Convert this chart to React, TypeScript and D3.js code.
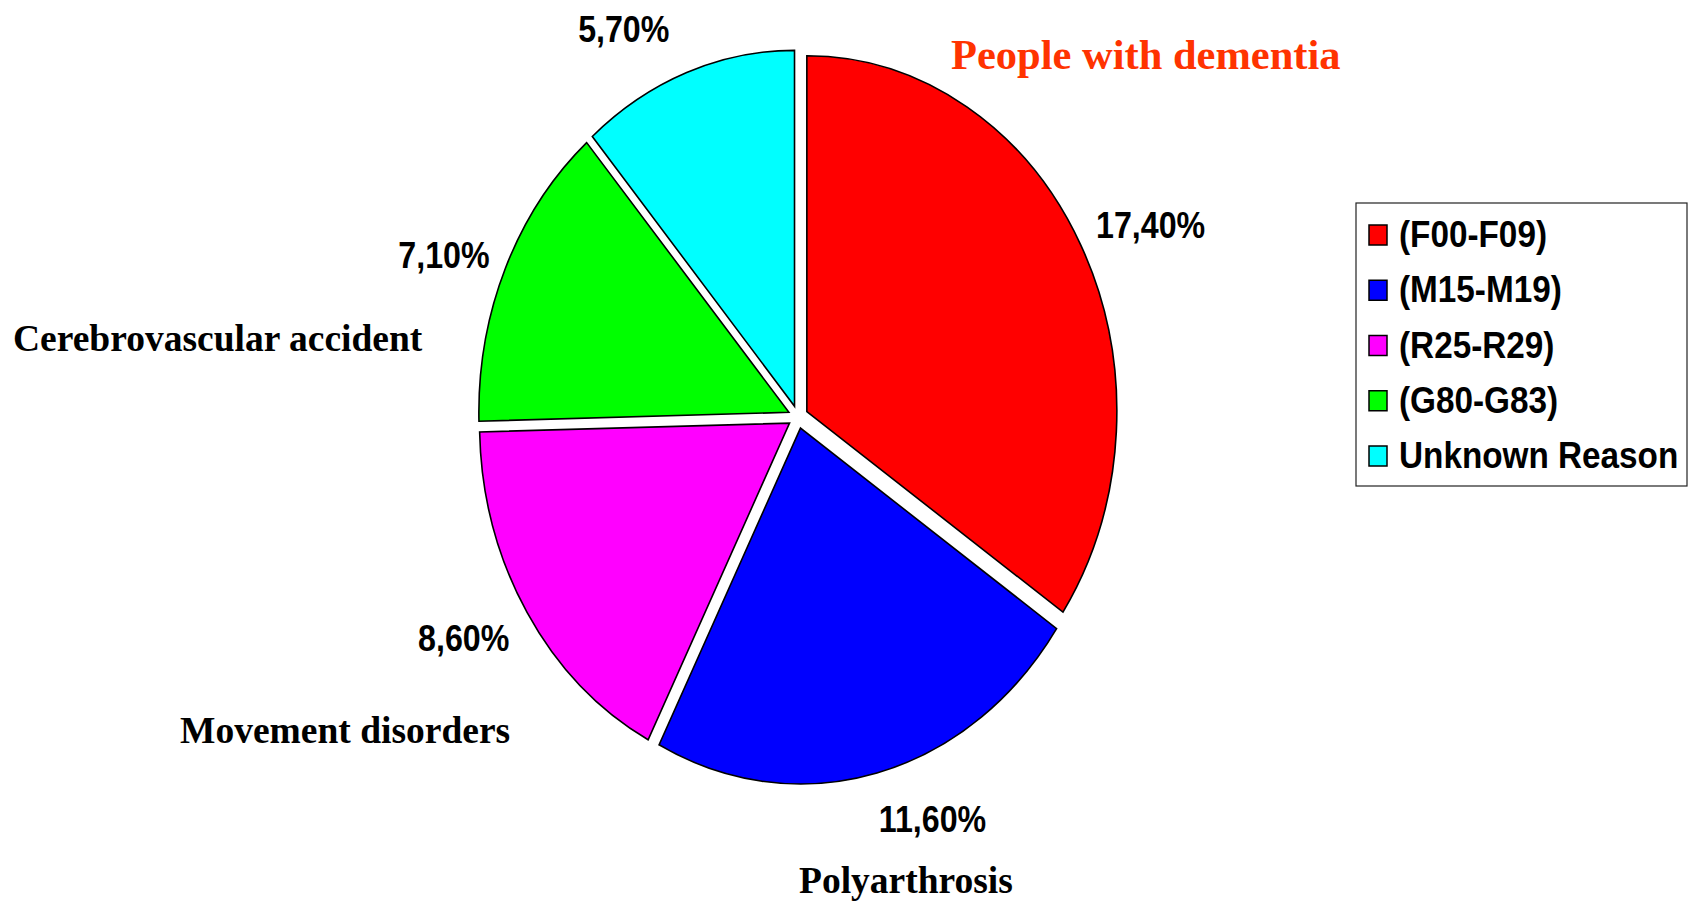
import * as d3 from 'd3';

// ICD groups and their share, clockwise from 12 o'clock
const categories = ["(F00-F09)", "(M15-M19)", "(R25-R29)", "(G80-G83)", "Unknown Reason"];
const values = [17.4, 11.6, 8.6, 7.1, 5.7];
const diagnoses = ["People with dementia", "Polyarthrosis", "Movement disorders", "Cerebrovascular accident", ""];
const colors = ["#FF0000", "#0000FF", "#FF00FF", "#00FF00", "#00FFFF"];

const width = 1693;
const height = 906;
const cx = 798;
const cy = 417;
const radius = 310;
const stretch = 1.148; // pie is drawn taller than wide
const explode = 10;
const labelRadius = 383;

// nudges for the percent labels (Excel "best fit")
const pctNudge = [[14, 13], [40, -24], [-10, -13], [-4, 16], [-41, 24]];
// where the diagnosis captions sit
const captionPos = [[951, 69], [799, 893], [180, 743], [13, 351], [0, 0]];

const sansFont = '"Liberation Sans", Arial, sans-serif';
const serifFont = '"Liberation Serif", "Times New Roman", serif';

const fmt = (v: number) => v.toFixed(2).replace('.', ',') + '%';

export default function App() {
	const pie = d3.pie<number>().sort(null).startAngle(0).endAngle(2 * Math.PI);
	const arcs = pie(values);
	const arc = d3.arc<d3.PieArcDatum<number>>().innerRadius(0).outerRadius(radius);
	const labelArc = d3.arc<d3.PieArcDatum<number>>().innerRadius(labelRadius).outerRadius(labelRadius);

	const legendX = 1356;
	const legendY = 203;
	const rowY = d3.scalePoint<string>()
		.domain(categories)
		.range([legendY + 44, legendY + 265]);

	return (
		<svg width={width} height={height} style={{position: 'absolute', left: 0, top: 0, background: '#fff'}}>
			<g>
				{arcs.map((a, i) => {
					const mid = (a.startAngle + a.endAngle) / 2;
					const ox = explode * Math.sin(mid);
					const oy = -explode * Math.cos(mid);
					return (
						<g key={i} transform={`translate(${cx},${cy}) scale(1,${stretch}) translate(${ox},${oy})`}>
							<path d={arc(a) || ''} fill={colors[i]} stroke="#000" strokeWidth={1.6}
								strokeLinejoin="miter" vectorEffect="non-scaling-stroke" />
						</g>
					);
				})}
			</g>
			<g>
				{arcs.map((a, i) => {
					const [lx, ly] = labelArc.centroid(a);
					const x = cx + lx + pctNudge[i][0];
					const y = cy + ly * stretch + pctNudge[i][1];
					return (
						<text key={i} transform={`translate(${x},${y}) scale(0.87,1)`} textAnchor="middle" dy="0.35em"
							fontFamily={sansFont} fontWeight="bold" fontSize={37} fill="#000">
							{fmt(values[i])}
						</text>
					);
				})}
			</g>
			<g>
				{diagnoses.map((d, i) => d ? (
					<text key={i} x={captionPos[i][0]} y={captionPos[i][1]} fontFamily={serifFont} fontWeight="bold"
						fontSize={i === 0 ? 42.5 : 37.5} fill={i === 0 ? '#FF3300' : '#000'}>
						{d}
					</text>
				) : null)}
			</g>
			<g>
				<rect x={legendX} y={legendY} width={331} height={283} fill="#fff" stroke="#222" strokeWidth={1.2} />
				{categories.map((c, i) => {
					const y = rowY(c) as number;
					return (
						<g key={c}>
							<rect x={1369} y={y - 22} width={18} height={20} fill={colors[i]} stroke="#000" strokeWidth={1.5} />
							<text transform={`translate(1399,${y}) scale(0.9,1)`} fontFamily={sansFont} fontWeight="bold"
								fontSize={37} fill="#000">
								{c}
							</text>
						</g>
					);
				})}
			</g>
		</svg>
	);
}
